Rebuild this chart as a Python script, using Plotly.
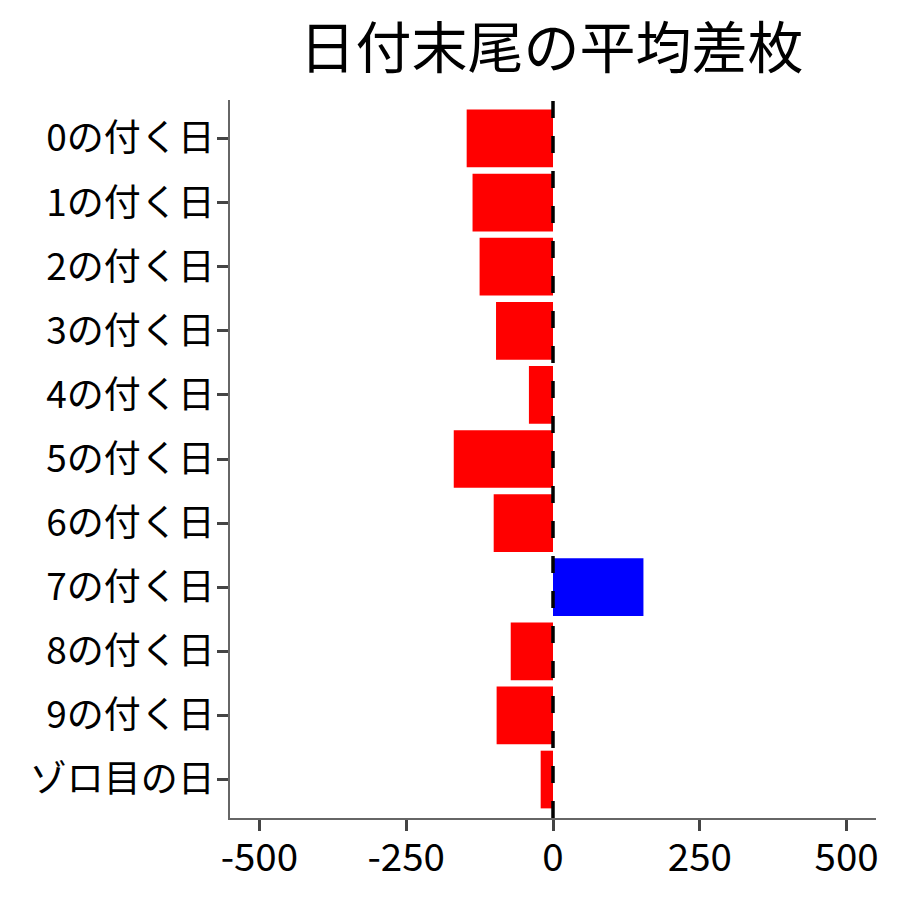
import plotly.graph_objects as go

# 日付末尾ごとの平均差枚
categories = ["0の付く日", "1の付く日", "2の付く日", "3の付く日", "4の付く日",
              "5の付く日", "6の付く日", "7の付く日", "8の付く日", "9の付く日", "ゾロ目の日"]
values = [-147, -137, -125, -97, -41, -169, -101, 154, -72, -96, -21]
x_ticks = [-500, -250, 0, 250, 500]

colors = ["#0000FF" if v > 0 else "#FF0000" for v in values]

font = "Noto Sans CJK JP"

fig = go.Figure(go.Bar(
    x=values, y=categories, orientation="h",
    marker=dict(color=colors, line=dict(width=0)),
    width=0.9, showlegend=False,
))

fig.add_vline(x=0, line=dict(color="black", width=3.5, dash="17px,18px"))

fig.update_layout(
    width=900, height=900,
    paper_bgcolor="white", plot_bgcolor="white",
    margin=dict(l=222, r=32, t=92, b=90),
    font=dict(family=font, color="black"),
    title=dict(text="日付末尾の平均差枚", x=0.604, xanchor="center",
               y=0.955, yanchor="middle", font=dict(size=56, family=font, color="black")),
    bargap=0.1,
)
fig.update_xaxes(
    range=[-550, 550], tickvals=x_ticks, ticktext=[str(t) for t in x_ticks],
    showgrid=False, zeroline=False, automargin=False,
    showline=True, linecolor="#666666", linewidth=1.5,
    ticks="outside", tickcolor="#444444", ticklen=11, tickwidth=3,
    ticklabelstandoff=-6,
    tickfont=dict(size=38.5, family=font, color="black"),
)
fig.update_yaxes(
    categoryorder="array", categoryarray=categories, range=[10.6, -0.6],
    showgrid=False, zeroline=False, automargin=False,
    showline=True, linecolor="#666666", linewidth=1.5,
    ticks="outside", tickcolor="#444444", ticklen=11, tickwidth=3,
    ticklabelstandoff=-5,
    tickfont=dict(size=37, family=font, color="black"),
)

fig.write_html("out.html")
